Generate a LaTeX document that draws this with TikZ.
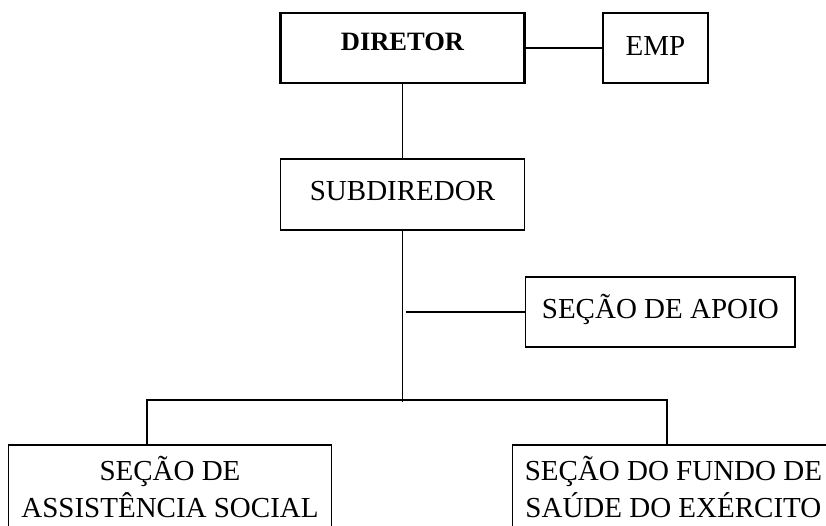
\documentclass[tikz,border=0pt]{standalone}
\usepackage{fontspec}
\setmainfont{Liberation Serif}

\begin{document}
\begin{tikzpicture}[x=1pt,y=-1pt]
			\tikzstyle{box} = [rectangle,draw,line width=1.4pt,inner sep=0pt,outer sep=0pt,align=center,font=\fontsize{29}{36.5}\selectfont]
			\tikzstyle{link} = [line width=1.4pt]
			\useasboundingbox (0,0) rectangle (826,525);
			\clip (0,0) rectangle (826,525);
			
			\node[box,line width=2.4pt,font=\fontsize{26.5}{30}\selectfont\bfseries,minimum width=244pt,text height=37pt,text depth=33pt] (dir) at (402.5,48) {DIRETOR};
			\node[box,minimum width=105pt,text height=42pt,text depth=28pt] (emp) at (655.5,48) {EMP};
			\node[box,minimum width=244pt,text height=41.7pt,text depth=29.3pt] (sub) at (402.5,194.5) {SUBDIREDOR};
			\node[box,minimum width=269.3pt,text height=41pt,text depth=29pt] (apoio) at (660.3,312) {SEÇÃO DE APOIO};
			\node[box,minimum width=323.4pt,text height=72pt,text depth=43pt] (ass) at (170,502.5) {SEÇÃO DE\\ASSISTÊNCIA SOCIAL};
			\node[box,minimum width=321.3pt,text height=72pt,text depth=43pt] (fundo) at (673.4,502.5) {SEÇÃO DO FUNDO DE\\SAÚDE DO EXÉRCITO};
			
			\coordinate (trunk) at (402.5,401.5);
			\coordinate (tap) at (406,312);
			\coordinate (barL) at (147,400);
			\coordinate (barR) at (667,400);
			
			\path[link] (dir) edge (emp);
			\path[link] (dir) edge (sub);
			\path[link] (sub) edge (trunk);
			\path[link] (tap) edge (apoio);
			\draw[link] (ass.north -| barL) |- (barR) -- (fundo.north -| barR);
		\end{tikzpicture}
\end{document}
